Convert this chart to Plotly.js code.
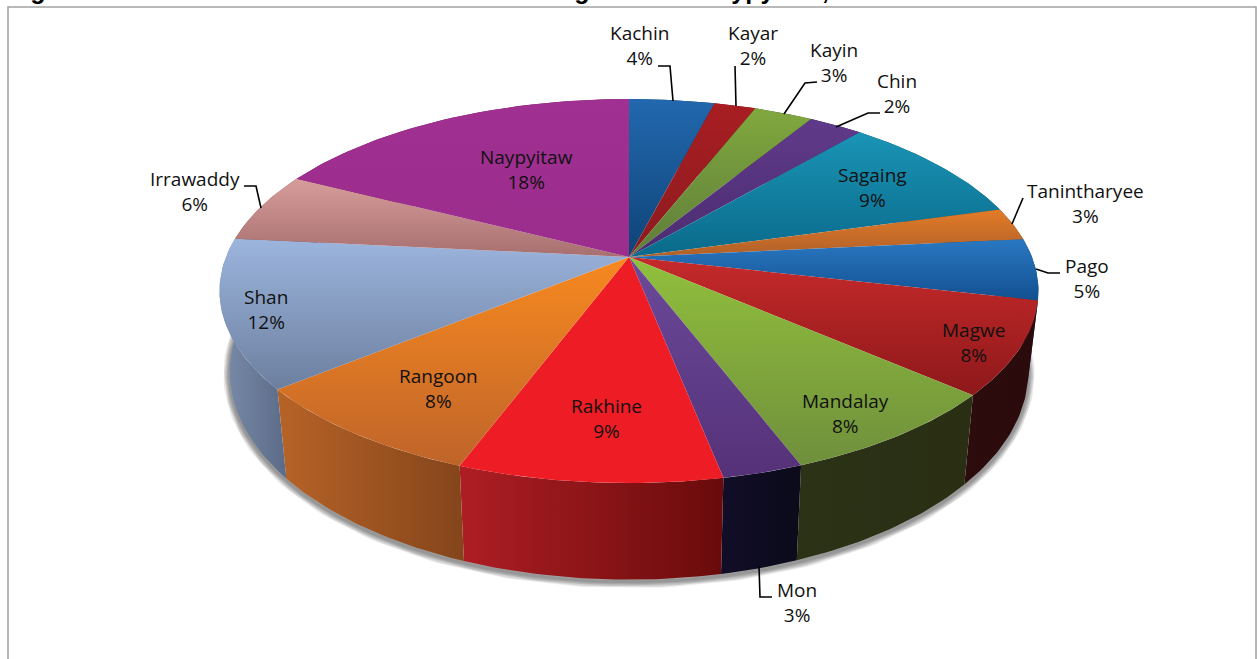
<!DOCTYPE html>
<html>
<head>
<meta charset="utf-8">
<script src="https://cdn.plot.ly/plotly-3.0.1.min.js"></script>
<style>html,body{margin:0;padding:0;background:#fff;overflow:hidden}#chart{width:1257px;height:659px}</style>
</head>
<body>
<div id="chart"></div>
<script>
// ---- chart data ----
var regions = ["Kachin","Kayar","Kayin","Chin","Sagaing","Tanintharyee","Pago","Magwe","Mandalay","Mon","Rakhine","Rangoon","Shan","Irrawaddy","Naypyitaw"];
var percents = [4,2,3,2,9,3,5,8,8,3,9,8,12,6,18];                                   // printed labels
var shares = [3.99,1.96,2.76,2.54,9.45,2.75,5.15,7.8,7.8,2.7,8.8,8.4,12.5,5.9,17.5]; // slice sizes as drawn
var chartTitle = "Figure 3.2: Women Members in the States or Regions and Naypyitaw, 2014.";

// ---- styles ----
var topLight = ["#2268ae","#a81e22","#80a83e","#603a8a","#1a94b5","#e27b28","#2a78c2","#c62a2b","#91c03c","#6b4a9a","#ee1c25","#f7891f","#9cb5dd","#d79d9b","#a03091"];
var topDark  = ["#0e4377","#8c1b1f","#5e7d3a","#4b2c70","#0a6a8b","#b06029","#125090","#8e181a","#6f8f3c","#553178","#ee1c25","#bf642a","#6c7f9f","#a76f6f","#9b2d8d"];
var wallLeft  = ["#0e3a66","#701518","#4a6030","#3a2258","#085570","#8a4a20","#0f3a66","#2c0c0c","#2b3216","#110d28","#ae1e24","#b76327","#7b8dac","#7a5a5a","#701f68"];
var wallRight = ["#0e3a66","#701518","#4a6030","#3a2258","#085570","#8a4a20","#0f3a66","#2a0a0b","#2a2f14","#0b0b1a","#690b0b","#84451b","#5b6b87","#7a5a5a","#701f68"];
var labelPos = [[639,45],[753,45],[834,62],[897,93],[872,187],[1085,203],[1087,278],[973,342],[845,413],[797,602],[606,418],[438,388],[266,309],[195,191],[526,169]];
var leaders = [
  [[658,66],[670,66],[673,101]],
  [[735,66],[736,106]],
  [[817,82],[805,83],[784,114]],
  [[880,113],[868,113],[836,127]],
  [[1023,198],[1012,224]],
  [[1060,273],[1048,273],[1036,269]],
  [[759,566],[760,597],[772,597]],
  [[244,186],[256,186],[261,208]]
];

// ---- projection of the tilted disc onto the page (axis units = pixels) ----
var CX = 629, CY = 257, RX = 403, RY = 186, TILT = 0.177, WALL_X = 0.975, WALL_A = 1.082, WALL_B = 57;
function topPoint(deg, r) {
  var a = deg * Math.PI / 180, u = r * Math.sin(a), v = r * Math.cos(a), w = 1 + TILT * v;
  return [CX + RX * u / w, CY - RY * v / w];
}
function wallPoint(p) { return [CX + (p[0] - CX) * WALL_X, WALL_A * p[1] + WALL_B]; }
function arc(d0, d1) {
  var pts = [], n = Math.max(2, Math.ceil(Math.abs(d1 - d0)));
  for (var i = 0; i <= n; i++) pts.push(topPoint(d0 + (d1 - d0) * i / n, 1));
  return pts;
}
function xs(p) { return p.map(function (q) { return q[0]; }); }
function ys(p) { return p.map(function (q) { return q[1]; }); }

var total = shares.reduce(function (a, b) { return a + b; }, 0);
var traces = [];

// soft shadow under the disc
var rim = arc(0, 360).map(wallPoint).map(function (p) { return [p[0], p[1] + 2]; });
[13, 11, 9, 7, 5, 3].forEach(function (w) {
  traces.push({type: "scatter", mode: "lines", x: xs(rim), y: ys(rim), hoverinfo: "skip", showlegend: false,
    line: {color: "rgba(40,40,40,0.10)", width: w}});
});

// side walls, then top faces
var walls = [], faces = [], cum = 0;
shares.forEach(function (v, i) {
  var d0 = cum / total * 360; cum += v;
  var d1 = cum / total * 360;
  var rimPts = arc(d0, d1);
  var wall = rimPts.concat(rimPts.map(wallPoint).reverse());
  walls.push({type: "scatter", mode: "lines", name: regions[i] + " side", x: xs(wall), y: ys(wall), hoverinfo: "skip", showlegend: false,
    fill: "toself", line: {width: 0},
    fillgradient: {type: "horizontal", colorscale: [[0, wallLeft[i]], [1, wallRight[i]]]}});
  var face = [[CX, CY]].concat(rimPts);
  face.push([CX, CY]);
  faces.push({type: "scatter", mode: "lines", name: regions[i], x: xs(face), y: ys(face),
    text: regions[i] + " " + percents[i] + "%", hoverinfo: "text", showlegend: false,
    fill: "toself", line: {width: 0},
    fillgradient: {type: "vertical", colorscale: [[0, topDark[i]], [1, topLight[i]]]}});
});
traces = traces.concat(walls, faces);

var annotations = regions.map(function (r, i) {
  return {x: labelPos[i][0], y: labelPos[i][1], xref: "x", yref: "y", showarrow: false, xanchor: "center", yanchor: "middle",
    align: "center", text: r + "<br>" + percents[i] + "%", font: {family: "'Open Sans', sans-serif", size: 19, color: "#111"}};
});
annotations.push({x: 6, y: 6, xref: "x", yref: "y", showarrow: false, xanchor: "left", yanchor: "bottom",
  text: chartTitle, font: {family: "'Liberation Sans', sans-serif", size: 25, color: "#000", weight: 700}});

var shapes = leaders.map(function (p) {
  return {type: "path", xref: "x", yref: "y", line: {color: "#000", width: 1.6},
    path: p.map(function (q, i) { return (i ? "L" : "M") + q[0] + "," + q[1]; }).join(" ")};
});
shapes.push({type: "path", xref: "x", yref: "y", path: "M8,659 L8,7 L1256,7 L1256,659", line: {color: "#a3a3a3", width: 1.6}});

Plotly.newPlot("chart", traces, {
  width: 1257, height: 659,
  margin: {l: 0, r: 0, t: 0, b: 0},
  paper_bgcolor: "#fff", plot_bgcolor: "#fff",
  showlegend: false,
  hovermode: "closest",
  xaxis: {range: [0, 1257], visible: false, fixedrange: true},
  yaxis: {range: [659, 0], visible: false, fixedrange: true},
  annotations: annotations,
  shapes: shapes
}, {displayModeBar: false});
</script>
</body>
</html>
